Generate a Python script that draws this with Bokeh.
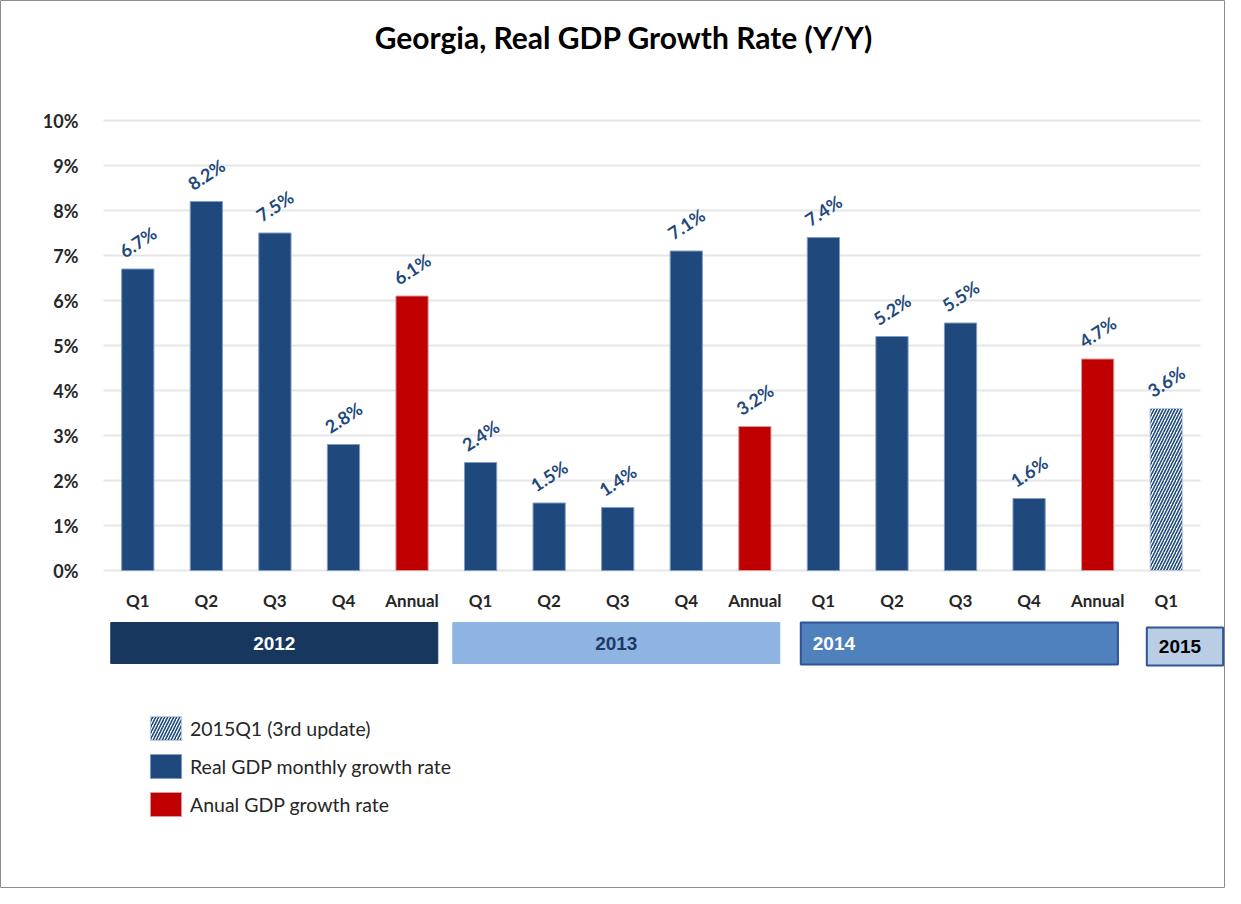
from bokeh.plotting import figure
from bokeh.models import (ColumnDataSource, FixedTicker, PrintfTickFormatter,
                          Legend, LegendItem)
from bokeh.core.properties import value
from bokeh.embed import file_html
from bokeh.resources import INLINE

# ---------------- data ----------------
title_text = "Georgia, Real GDP Growth Rate (Y/Y)"
quarters = ["Q1", "Q2", "Q3", "Q4", "Annual",
            "Q1", "Q2", "Q3", "Q4", "Annual",
            "Q1", "Q2", "Q3", "Q4", "Annual",
            "Q1"]
years = ["2012"] * 5 + ["2013"] * 5 + ["2014"] * 5 + ["2015"]
growth = [6.7, 8.2, 7.5, 2.8, 6.1,
          2.4, 1.5, 1.4, 7.1, 3.2,
          7.4, 5.2, 5.5, 1.6, 4.7,
          3.6]
kind = ["quarter"] * 4 + ["annual"] + ["quarter"] * 4 + ["annual"] + \
       ["quarter"] * 4 + ["annual"] + ["prelim"]
y_ticks = [0, 1, 2, 3, 4, 5, 6, 7, 8, 9, 10]
year_labels = ["2012", "2013", "2014", "2015"]
legend_labels = ["2015Q1 (3rd update)", "Real GDP monthly growth rate",
                 "Anual GDP growth rate"]

# ---------------- styles ----------------
BLUE = "#1F497D"
RED = "#C00000"
W, H = 1225, 888
PX_X = 68.5625   # px per category
PX_Y = 45.0      # px per 1%
x0 = -0.5 - 103 / PX_X
x1 = x0 + W / PX_X
y1 = 570 / PX_Y
y0 = y1 - H / PX_Y

p = figure(width=W, height=H, x_range=(x0, x1), y_range=(y0, y1),
           output_backend="svg", toolbar_location=None,
           min_border=0, min_border_left=0, min_border_right=0,
           min_border_top=0, min_border_bottom=0)
p.background_fill_color = "white"
p.border_fill_color = "white"
p.outline_line_color = "#8c8c8c"
p.outline_line_width = 1
p.xgrid.visible = False
p.ygrid.visible = False

# axes placed inside the frame
xa = p.xaxis[0]
xa.fixed_location = 0
xa.ticker = FixedTicker(ticks=list(range(len(quarters))))
xa.major_label_overrides = {i: q for i, q in enumerate(quarters)}
xa.axis_line_color = None
xa.major_tick_line_color = None
xa.minor_tick_line_color = None
xa.major_label_standoff = 13
xa.major_label_text_font = "Lato"
xa.major_label_text_font_style = "bold"
xa.major_label_text_font_size = "17px"
xa.major_label_text_color = "#262626"

ya = p.yaxis[0]
ya.fixed_location = -0.5
ya.ticker = FixedTicker(ticks=y_ticks)
ya.formatter = PrintfTickFormatter(format="%d%%")
ya.axis_line_color = None
ya.major_tick_line_color = None
ya.minor_tick_line_color = None
ya.major_label_standoff = 19
ya.major_label_text_font = "Lato"
ya.major_label_text_font_style = "bold"
ya.major_label_text_font_size = "18px"
ya.major_label_text_color = "#262626"

# gridlines
p.segment(x0=[-0.5] * len(y_ticks), x1=[len(quarters) - 0.5] * len(y_ticks),
          y0=y_ticks, y1=y_ticks, line_color="#e6e6e6", line_width=2)

# bars
idx = list(range(len(quarters)))
def subset(k):
    ii = [i for i in idx if kind[i] == k]
    return ColumnDataSource(dict(x=ii, top=[growth[i] for i in ii]))

r_q = p.vbar(x="x", top="top", width=0.47, source=subset("quarter"),
             fill_color=BLUE, line_color="#7f9cc6", line_width=1)
r_a = p.vbar(x="x", top="top", width=0.47, source=subset("annual"),
             fill_color=RED, line_color="#d99a9a", line_width=1)
r_p = p.vbar(x="x", top="top", width=0.47, source=subset("prelim"),
             fill_color="white", line_color="#b8c9e0", line_width=1,
             hatch_pattern="/", hatch_color=BLUE, hatch_scale=6,
             hatch_weight=1.6)

# value labels
lab_src = ColumnDataSource(dict(x=idx, y=growth,
                                t=[f"{v:.1f}%" for v in growth]))
p.text(x="x", y="y", text="t", source=lab_src, angle=0.58,
       y_offset=-27, text_align="center", text_baseline="middle",
       text_font=value("Lato"), text_font_style="bold",
       text_font_size="18px", text_color=BLUE)

# title
p.text(x=[7.09], y=[11.86], text=[title_text], text_align="center",
       text_baseline="middle", text_font=value("Lato"),
       text_font_style="bold", text_font_size="30px", text_color="black")

# year boxes
groups = []
for y in year_labels:
    ii = [i for i in idx if years[i] == y]
    groups.append((min(ii) - 0.5, max(ii) + 0.5))
pad_l = [0.106, 0.094, 0.17, 0.217]
pad_r = [0.124, 0.136, 0.204, -0.33]
box_top = [-1.156, -1.156, -1.156, -1.267]
box_bot = [-2.067, -2.067, -2.09, -2.111]
box_fill = ["#17375E", "#8EB4E3", "#4F81BD", "#B9CDE5"]
box_line = ["#17375E", "#8EB4E3", "#2F5597", "#2F5597"]
box_lw = [1, 1, 2, 2]
txt_color = ["white", "#1F3864", "white", "black"]
lefts = [g[0] + a for g, a in zip(groups, pad_l)]
rights = [g[1] - b for g, b in zip(groups, pad_r)]
p.quad(left=lefts, right=rights, top=box_top, bottom=box_bot,
       fill_color=box_fill, line_color=box_line, line_width=box_lw)
mids_y = [(a + b) / 2 for a, b in zip(box_top, box_bot)]
# centred labels (2012, 2013)
p.text(x=[(lefts[i] + rights[i]) / 2 for i in (0, 1)],
       y=[mids_y[i] for i in (0, 1)],
       text=[year_labels[i] for i in (0, 1)],
       text_color=[txt_color[i] for i in (0, 1)],
       text_align="center", text_baseline="middle",
       text_font=value("Liberation Sans"), text_font_style="bold",
       text_font_size="19px")
# left aligned labels (2014, 2015)
p.text(x=[lefts[i] for i in (2, 3)], y=[mids_y[i] for i in (2, 3)],
       text=[year_labels[i] for i in (2, 3)],
       text_color=[txt_color[i] for i in (2, 3)],
       x_offset=12, text_align="left", text_baseline="middle",
       text_font=value("Liberation Sans"), text_font_style="bold",
       text_font_size="19px")

# legend
legend = Legend(items=[LegendItem(label=legend_labels[0], renderers=[r_p]),
                       LegendItem(label=legend_labels[1], renderers=[r_q]),
                       LegendItem(label=legend_labels[2], renderers=[r_a])],
                location=(146, 69), orientation="vertical",
                glyph_width=39, glyph_height=30, label_height=30,
                spacing=8, padding=0, margin=0, label_standoff=5,
                border_line_color=None, background_fill_alpha=0,
                label_text_font="Lato", label_text_font_size="19.5px",
                label_text_color="#262626")
p.add_layout(legend)

open("out.html", "w").write(file_html(p, INLINE))
